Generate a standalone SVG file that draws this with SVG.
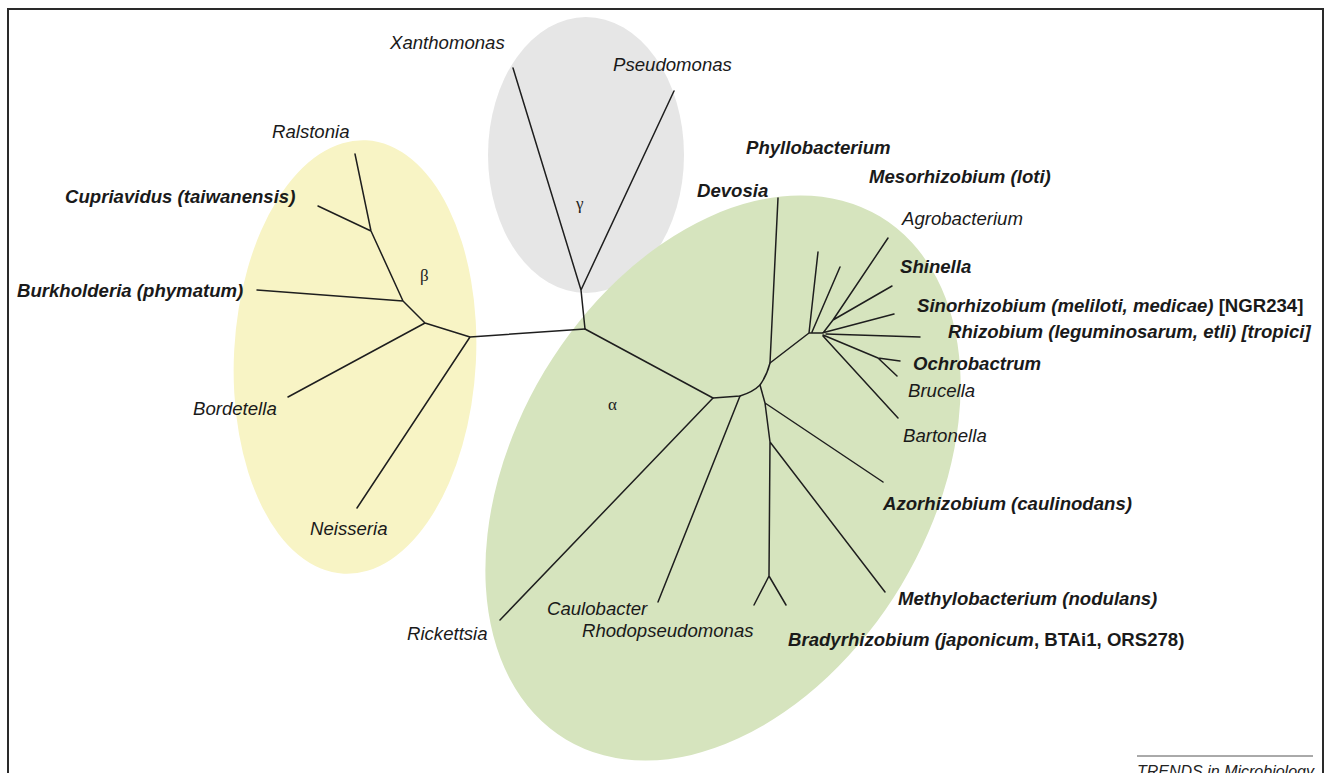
<svg xmlns="http://www.w3.org/2000/svg" width="1329" height="773" viewBox="0 0 1329 773">
<style>
.bg{fill:#ffffff}
.frame{fill:none;stroke:#2a2a2a;stroke-width:2}
.br{fill:none;stroke:#1e1e1e;stroke-width:1.5;stroke-linecap:round;stroke-linejoin:round}
.t{font-family:"Liberation Sans",Arial,sans-serif;font-size:18.6px;font-style:italic;fill:#1a1a1a}
.b{font-weight:bold}
.up{font-style:normal}
.g{font-family:"Liberation Serif","Times New Roman",serif;font-size:17px;fill:#222}
.src{font-family:"Liberation Sans",Arial,sans-serif;font-size:16px;font-style:italic;fill:#222}
</style>
<rect class="bg" x="0" y="0" width="1329" height="773"/>
<rect class="frame" x="8" y="9" width="1315" height="780"/>
<g id="clade-beta">
<ellipse cx="355" cy="357" rx="121" ry="217" transform="rotate(3 355 357)" fill="#f8f4c5"/>
<text class="g" x="420" y="281">β</text>
</g>
<g id="clade-gamma">
<ellipse cx="586" cy="155" rx="98" ry="138" fill="#e6e6e6"/>
<text class="g" x="576" y="209">γ</text>
</g>
<g id="clade-alpha">
<ellipse cx="723" cy="478" rx="208" ry="305" transform="rotate(31 723 478)" fill="#d6e4be"/>
<text class="g" x="608" y="410">α</text>
</g>
<g id="connectors">
<path class="br" d="M585,329 L581,290 M581,290 L513,68 M581,290 L674,91"/>
<path class="br" d="M585,329 L470,337 L425,323 L403,301 L371,231 L355,154 M371,231 L318,206 M403,301 L257,290 M425,323 L288,397 M470,337 L357,508"/>
<path class="br" d="M585,329 L713,398 L740,396 Q753,392 760,385 Q767,375 770,363 L778,198"/>
<path class="br" d="M713,398 L500,620 M740,396 L658,602"/>
<path class="br" d="M760,385 L765,403 L770,442 L769,576 M769,576 L754,605 M769,576 L786,605 M765,403 L883,482 M770,442 L885,592"/>
<path class="br" d="M770,363 L809,333 L818,252 M812,332 L840,267 M809,333 L823,333 L833,320 L888,238 M833,320 L892,286 M822,333 L894,314 M826,334 L920,337 M823,335 L878,358 L900,361 M878,358 L897,376 M823,336 L898,418"/>
</g>
<g id="labels">
<text class="t" x="390" y="49">Xanthomonas</text>
<text class="t" x="613" y="71">Pseudomonas</text>
<text class="t" x="272" y="138">Ralstonia</text>
<text class="t b" x="65" y="203">Cupriavidus (taiwanensis)</text>
<text class="t b" x="17" y="297">Burkholderia (phymatum)</text>
<text class="t" x="193" y="415">Bordetella</text>
<text class="t" x="310" y="535">Neisseria</text>
<text class="t b" x="746" y="154">Phyllobacterium</text>
<text class="t b" x="697" y="197">Devosia</text>
<text class="t b" x="869" y="183">Mesorhizobium (loti)</text>
<text class="t" x="902" y="225">Agrobacterium</text>
<text class="t b" x="900" y="273">Shinella</text>
<text class="t b" x="917" y="312">Sinorhizobium (meliloti, medicae) <tspan class="up">[NGR234]</tspan></text>
<text class="t b" x="948" y="338">Rhizobium (leguminosarum, etli) [tropici]</text>
<text class="t b" x="913" y="370">Ochrobactrum</text>
<text class="t" x="908" y="397">Brucella</text>
<text class="t" x="903" y="442">Bartonella</text>
<text class="t b" x="883" y="510">Azorhizobium (caulinodans)</text>
<text class="t b" x="898" y="605">Methylobacterium (nodulans)</text>
<text class="t b" x="788" y="646">Bradyrhizobium (japonicum<tspan class="up">, BTAi1, ORS278)</tspan></text>
<text class="t" x="407" y="640">Rickettsia</text>
<text class="t" x="547" y="615">Caulobacter</text>
<text class="t" x="582" y="637">Rhodopseudomonas</text>
</g>
<g id="source">
<line x1="1137" y1="756" x2="1313" y2="756" stroke="#555" stroke-width="1"/>
<text class="src" x="1137" y="777">TRENDS in Microbiology</text>
</g>
</svg>
